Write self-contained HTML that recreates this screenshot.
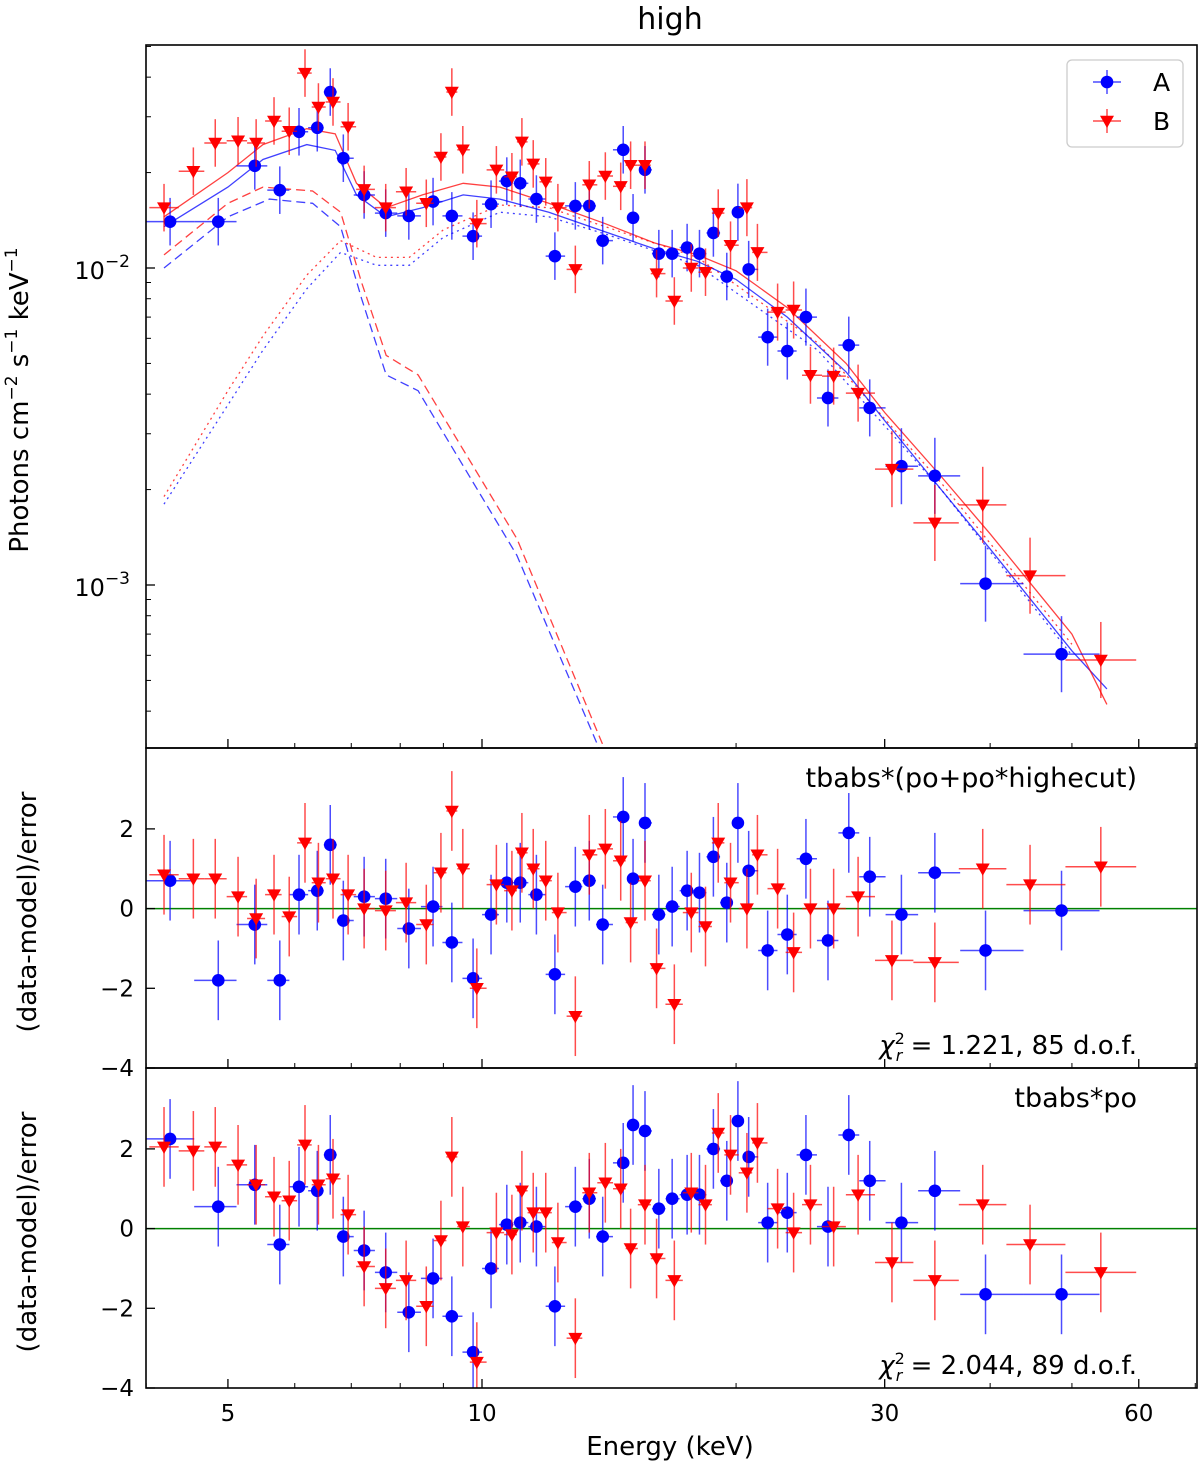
<!DOCTYPE html>
<html><head><meta charset="utf-8"><style>
body{margin:0;background:#fff}
svg text{font-family:"DejaVu Sans","Liberation Sans",sans-serif;fill:#000}
</style></head><body>
<svg id="chart" xmlns="http://www.w3.org/2000/svg" width="1200" height="1462" viewBox="0 0 1200 1462">
<text x="670" y="29" font-size="30" text-anchor="middle">high</text>
<g id="g"></g>
</svg>
<script>
// ---- data ----
const energyA=[4.27,4.87,5.38,5.76,6.07,6.38,6.61,6.85,7.25,7.69,8.19,8.75,9.21,9.76,10.25,10.7,11.1,11.6,12.2,12.9,13.4,13.9,14.7,15.1,15.6,16.2,16.8,17.5,18.1,18.8,19.5,20.1,20.7,21.8,23.0,24.2,25.7,27.2,28.8,31.4,34.4,39.5,48.6];
const fluxA=[1.40,1.40,2.10,1.76,2.69,2.77,3.59,2.22,1.70,1.49,1.46,1.62,1.46,1.26,1.59,1.88,1.85,1.65,1.09,1.57,1.57,1.22,2.36,1.44,2.04,1.11,1.11,1.16,1.11,1.29,0.94,1.50,0.99,0.605,0.547,0.70,0.389,0.571,0.362,0.237,0.221,0.101,0.0605];
const resA1=[0.7,-1.8,-0.4,-1.8,0.35,0.45,1.6,-0.3,0.3,0.25,-0.5,0.05,-0.85,-1.75,-0.15,0.65,0.65,0.35,-1.65,0.55,0.7,-0.4,2.3,0.75,2.15,-0.15,0.05,0.45,0.4,1.3,0.15,2.15,0.95,-1.05,-0.65,1.25,-0.8,1.9,0.8,-0.15,0.9,-1.05,-0.05];
const resA2=[2.25,0.55,1.1,-0.4,1.05,0.95,1.85,-0.2,-0.55,-1.1,-2.1,-1.25,-2.2,-3.1,-1.0,0.1,0.15,0.05,-1.95,0.55,0.75,-0.2,1.65,2.6,2.45,0.5,0.75,0.85,0.85,2.0,1.2,2.7,1.8,0.15,0.4,1.85,0.05,2.35,1.2,0.15,0.95,-1.65,-1.65];
const energyB=[4.20,4.55,4.83,5.14,5.40,5.67,5.91,6.17,6.40,6.66,6.94,7.25,7.69,8.13,8.59,8.94,9.21,9.49,9.86,10.4,10.85,11.15,11.5,11.9,12.3,12.9,13.4,14.0,14.6,15.0,15.6,16.1,16.9,17.7,18.4,19.05,19.7,20.6,21.2,22.4,23.4,24.5,26.1,27.9,30.6,34.4,39.2,44.6,54.1];
const fluxB=[1.55,2.02,2.48,2.52,2.48,2.91,2.70,4.12,3.22,3.34,2.79,1.77,1.55,1.74,1.60,2.24,3.59,2.36,1.38,2.04,1.94,2.50,2.13,1.87,1.55,0.99,1.83,1.95,1.81,2.11,2.11,0.96,0.787,1.00,0.97,1.49,1.18,1.55,1.12,0.726,0.737,0.459,0.456,0.403,0.232,0.157,0.179,0.107,0.058];
const resB1=[0.85,0.75,0.75,0.3,-0.25,0.35,-0.2,1.65,0.65,0.75,0.35,0.0,-0.05,0.15,-0.4,0.9,2.45,1.0,-2.0,0.6,0.45,1.4,1.0,0.7,-0.1,-2.7,1.35,1.5,1.2,-0.35,0.7,-1.5,-2.4,-0.1,-0.45,1.65,0.65,0.0,1.35,0.5,-1.1,0.0,0.0,0.3,-1.3,-1.35,1.0,0.6,1.05];
const resB2=[2.05,1.95,2.05,1.6,1.1,0.8,0.7,2.1,1.1,1.25,0.35,-0.95,-1.5,-1.3,-1.95,-0.3,1.8,0.05,-3.35,-0.1,-0.15,0.95,0.4,0.4,-0.35,-2.75,0.9,1.15,1.0,-0.5,0.6,-0.75,-1.3,0.9,0.6,2.4,1.85,1.4,2.15,0.5,-0.1,0.6,0.05,0.85,-0.85,-1.3,0.6,-0.4,-1.1];
// model curves (energy, flux in 1e-2)
const mTotA_E=[4.2,5,5.5,6.2,6.7,7.1,7.7,8.5,9.5,10.5,12,14,16,18,20,23,27,30,35,40,50,55];
const mTotA_F=[1.35,1.8,2.2,2.45,2.35,1.7,1.45,1.55,1.7,1.65,1.5,1.3,1.15,1.05,0.92,0.7,0.47,0.33,0.2,0.13,0.062,0.047];
const mTotB_E=[4.2,5,5.5,6.2,6.7,7.1,7.7,8.5,9.5,10.5,12,14,16,18,20,23,27,30,35,40,50,55];
const mTotB_F=[1.45,2.0,2.45,2.75,2.65,1.85,1.55,1.7,1.85,1.8,1.6,1.38,1.2,1.1,0.98,0.75,0.5,0.35,0.22,0.145,0.07,0.042];
const mPoA_E=[4.2,5,5.6,6.3,6.8,7.2,7.7,8.4,11,13.8];
const mPoA_F=[1.0,1.45,1.65,1.6,1.35,0.8,0.46,0.41,0.124,0.03];
const mPoB_E=[4.2,5,5.5,6.3,6.8,7.2,7.7,8.4,11,14.0];
const mPoB_F=[1.1,1.6,1.8,1.75,1.5,0.9,0.53,0.46,0.14,0.03];
const mCutA_E=[4.2,5,5.5,6.2,6.8,7.5,8.2,9,10.5,12,14,18,25,35,50];
const mCutA_F=[0.18,0.37,0.55,0.86,1.12,1.02,1.02,1.25,1.5,1.45,1.28,1.02,0.55,0.2,0.06];
const mCutB_E=[4.2,5,5.5,6.2,6.8,7.5,8.2,9,10.5,12,14,18,25,35,50];
const mCutB_F=[0.19,0.41,0.61,0.95,1.22,1.08,1.08,1.32,1.58,1.55,1.35,1.08,0.58,0.21,0.065];
const xTicks=[5,10,30,60];
const xMinor=[4,6,7,8,9,20,40,50,70];
const resTicks=[-4,-2,0,2];

// ---- axes ----
const L=146,R=1197,P1=[45,748],P2=[748,1068],P3=[1068,1388];
const X=e=>482+844*Math.log10(e/10);
const Ytop=f=>268-317*Math.log10(f/1e-2);
const Yres=(p)=>v=>p[0]+(p[1]-p[0])*(4.03-v)/8.03;
const Y2=Yres(P2),Y3=Yres(P3);
const g=document.getElementById('g');const NS='http://www.w3.org/2000/svg';
function mk(t,a,parent){const e=document.createElementNS(NS,t);for(const k in a)e.setAttribute(k,a[k]);(parent||g).appendChild(e);return e;}
const BL='#0000ff',RD='#ff0000';
function clipRect(id,p){const d=mk('clipPath',{id});mk('rect',{x:L,y:p[0],width:R-L,height:p[1]-p[0]},d);}
clipRect('c1',P1);clipRect('c2',P2);clipRect('c3',P3);
function line(E,F,Yf,col,dash,name,clip){let d='';E.forEach((e,i)=>{d+=(i?'L':'M')+X(e).toFixed(1)+','+Yf(F[i]*1e-2).toFixed(1);});
 const p=mk('path',{d,fill:'none',stroke:col,'stroke-width':1.3,'stroke-opacity':0.75,'stroke-dasharray':dash,'clip-path':'url(#'+clip+')'});
 
 }
function edges(E,i){const lo=i>0?Math.sqrt(E[i-1]*E[i]):E[i]*E[i]/Math.sqrt(E[i]*E[i+1]);const hi=i<E.length-1?Math.sqrt(E[i]*E[i+1]):E[i]*E[i]/Math.sqrt(E[i-1]*E[i]);return[lo,hi];}
function marker(cx,cy,col,tri,parent){if(tri){const s=7;return mk('path',{d:`M${cx-s},${cy-s*0.75}L${cx+s},${cy-s*0.75}L${cx},${cy+s}Z`,fill:col},parent);}return mk('circle',{cx,cy,r:6.3,fill:col},parent);}
function points(E,V,yerrFn,col,tri,name,clip){const grp=mk('g',{'clip-path':'url(#'+clip+')'});
 
 
 E.forEach((e,i)=>{const[lo,hi]=edges(E,i);const cx=X(e),cy=yerrFn(V[i],0,i);const y1=yerrFn(V[i],1,i),y2=yerrFn(V[i],-1,i);
  mk('line',{x1:X(lo),x2:X(hi),y1:cy,y2:cy,stroke:col,'stroke-width':1.5,'stroke-opacity':0.7},grp);
  mk('line',{x1:cx,x2:cx,y1:y1,y2:y2,stroke:col,'stroke-width':1.5,'stroke-opacity':0.7},grp);
  const m=marker(cx,cy,col,tri,grp);
  
  });}
function dexErr(E,i){return E[i]>30?0.12:(E[i]>20?0.09:0.075);}
// top panel
line(mCutA_E,mCutA_F,Ytop,BL,'2 4','model-cutoff-po-A','c1');
line(mCutB_E,mCutB_F,Ytop,RD,'2 4','model-cutoff-po-B','c1');
line(mPoA_E,mPoA_F,Ytop,BL,'9 5','model-po-A','c1');
line(mPoB_E,mPoB_F,Ytop,RD,'9 5','model-po-B','c1');
line(mTotA_E,mTotA_F,Ytop,BL,'','model-total-A','c1');
line(mTotB_E,mTotB_F,Ytop,RD,'','model-total-B','c1');
points(energyA,fluxA,(v,s,i)=>Ytop(v*1e-2*Math.pow(10,s*dexErr(energyA,i))),BL,false,'data-A','c1');
points(energyB,fluxB,(v,s,i)=>Ytop(v*1e-2*Math.pow(10,s*dexErr(energyB,i))),RD,true,'data-B','c1');
// residual panels
[[Y2,resA1,resB1,'residual-highecut','c2'],[Y3,resA2,resB2,'residual-po','c3']].forEach(([Yf,ra,rb,nm,cl])=>{
 const zl=mk('line',{x1:L,x2:R,y1:Yf(0),y2:Yf(0),stroke:'#008000','stroke-width':1.5});
 
 
 points(energyA,ra,(v,s)=>Yf(v+s),BL,false,nm+'-A',cl);
 points(energyB,rb,(v,s)=>Yf(v+s),RD,true,nm+'-B',cl);
});
// frames & ticks
function txt(x,y,s,sz,anchor,name,extra){const t=mk('text',Object.assign({x:x,y:y,'font-size':sz,'text-anchor':anchor||'middle'},extra||{}));t.innerHTML=s;
 
 return t;}
[P1,P2,P3].forEach((p,k)=>{
 const fr=mk('rect',{x:L,y:p[0],width:R-L,height:p[1]-p[0],fill:'none',stroke:'#000','stroke-width':1.6});
 
 
 xTicks.forEach(t=>mk('line',{x1:X(t),x2:X(t),y1:p[1],y2:p[1]-9,stroke:'#000','stroke-width':1.3}));
 xMinor.forEach(t=>{if(X(t)>L&&X(t)<R)mk('line',{x1:X(t),x2:X(t),y1:p[1],y2:p[1]-5,stroke:'#000','stroke-width':1});});
});
[1e-2,1e-3].forEach(v=>mk('line',{x1:L,x2:L+9,y1:Ytop(v),y2:Ytop(v),stroke:'#000','stroke-width':1.3}));
[3e-4,4e-4,5e-4,6e-4,7e-4,8e-4,9e-4,2e-3,3e-3,4e-3,5e-3,6e-3,7e-3,8e-3,9e-3,2e-2,3e-2,4e-2,5e-2].forEach(v=>{const y=Ytop(v);if(y>45&&y<748)mk('line',{x1:L,x2:L+5,y1:y,y2:y,stroke:'#000','stroke-width':1});});
txt(130,279,'10<tspan dy="-12" font-size="17">−2</tspan>',24,'end','y-tick-1e-2');
txt(130,596,'10<tspan dy="-12" font-size="17">−3</tspan>',24,'end','y-tick-1e-3');
[[Y2,'mid'],[Y3,'bot']].forEach(([Yf,n])=>{resTicks.forEach(t=>{mk('line',{x1:L,x2:L+9,y1:Yf(t),y2:Yf(t),stroke:'#000','stroke-width':1.3});txt(134,Yf(t)+8,t<0?'−'+(-t):''+t,23,'end','y-tick-'+n);});});
xTicks.forEach(t=>txt(X(t),1421,''+t,23,'middle','x-tick-label'));
txt(670,1455,'Energy (keV)',26,'middle','x-axis-title');
txt(0,0,'Photons cm<tspan dy="-11" font-size="17">−2</tspan><tspan dy="11"> s</tspan><tspan dy="-11" font-size="17">−1</tspan><tspan dy="11"> keV</tspan><tspan dy="-11" font-size="17">−1</tspan>',26,'middle','y-axis-title-top',{transform:'translate(28,400) rotate(-90)'});
txt(0,0,'(data-model)/error',26,'middle','y-axis-title-mid',{transform:'translate(36,912) rotate(-90)'});
txt(0,0,'(data-model)/error',26,'middle','y-axis-title-bot',{transform:'translate(36,1232) rotate(-90)'});
txt(1137,787,'tbabs*(po+po*highecut)',27,'end','model-label-mid');
txt(1137,1107,'tbabs*po',27,'end','model-label-bot');
txt(1137,1054,'<tspan font-style="italic">χ</tspan><tspan dy="-10" font-size="16">2</tspan><tspan dx="-9" dy="17" font-size="16" font-style="italic">r</tspan><tspan dy="-7"> = 1.221, 85 d.o.f.</tspan>',26,'end','chi2-label-mid');
txt(1137,1374,'<tspan font-style="italic">χ</tspan><tspan dy="-10" font-size="16">2</tspan><tspan dx="-9" dy="17" font-size="16" font-style="italic">r</tspan><tspan dy="-7"> = 2.044, 89 d.o.f.</tspan>',26,'end','chi2-label-bot');
// legend
const lg=mk('g',{});


mk('rect',{x:1067,y:60,width:116,height:87,rx:5,fill:'#fff',stroke:'#ccc','stroke-width':1.3},lg);
[[82,BL,false,'A'],[121,RD,true,'B']].forEach(([y,c,t,l])=>{const e=mk('g',{},lg);
 
 
 mk('line',{x1:1093,x2:1121,y1:y,y2:y,stroke:c,'stroke-width':1.5,'stroke-opacity':0.7},e);
 mk('line',{x1:1107,x2:1107,y1:y-12,y2:y+12,stroke:c,'stroke-width':1.5,'stroke-opacity':0.7},e);
 marker(1107,y,c,t,e);const tt=mk('text',{x:1153,y:y+9,'font-size':25},e);tt.textContent=l;});
</script>
</body></html>
